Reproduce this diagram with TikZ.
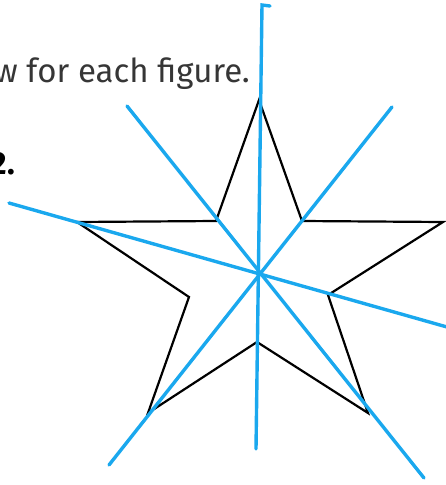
\documentclass[tikz,border=0pt]{standalone}
\usepackage{fontspec}
\setmainfont{Fira Sans}
\definecolor{symblue}{HTML}{1AA8EE}
\definecolor{txtgray}{HTML}{363636}
\begin{document}
\begin{tikzpicture}[x=1pt,y=-1pt,
  symline/.style={draw=symblue,line width=3.4pt,line cap=round},
  starline/.style={draw=black,line width=2.2pt,line join=miter},
  headtext/.style={text=txtgray,font=\fontsize{33}{36}\selectfont,inner sep=0pt},
  numtext/.style={text=black,font=\fontsize{32}{34}\selectfont\bfseries,inner sep=0pt}]
\useasboundingbox (0,0) rectangle (445,485);
% star vertices
\coordinate (T) at (259,100);
\coordinate (IUR) at (302,221);
\coordinate (R) at (443,222);
\coordinate (IR) at (328,295);
\coordinate (BR) at (368,413);
\coordinate (IB) at (257,342);
\coordinate (BL) at (148,413);
\coordinate (IL) at (189,297);
\coordinate (L) at (77,222);
\coordinate (IUL) at (216,221);
% symmetry line ends
\coordinate (v1) at (262,5);
\coordinate (v0) at (270,6);
\coordinate (v2) at (256,449);
\coordinate (a1) at (127,106);
\coordinate (a2) at (424,478);
\coordinate (b1) at (392,107);
\coordinate (b2) at (109,465);
\coordinate (h1) at (9,203);
\coordinate (h2) at (447,327);
% text
\node[headtext,anchor=base east] (head) at (250,82) {w for each figure.};
\node[numtext,anchor=base east] (num) at (15,174) {2.};
% star
\draw[starline] (T) -- (IUR) -- (R) -- (IR) -- (BR) -- (IB) -- (BL) -- (IL) -- (L) -- (IUL) -- cycle;
% lines of symmetry
\draw[symline] (v0) -- (v1) -- (v2);
\draw[symline] (a1) -- (a2);
\draw[symline] (b1) -- (b2);
\draw[symline] (h1) -- (h2);
\end{tikzpicture}
\end{document}
